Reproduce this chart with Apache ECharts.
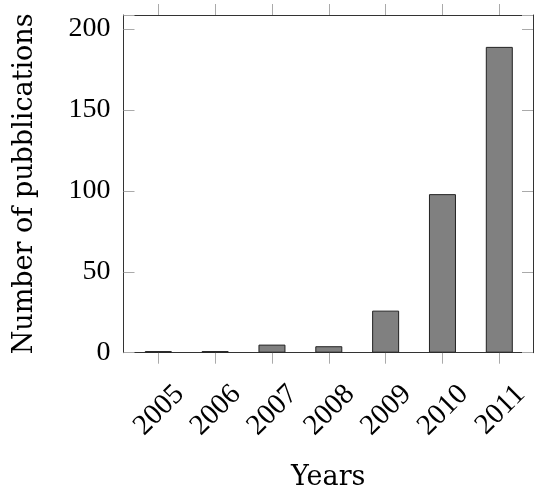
<!DOCTYPE html>
<html>
<head>
<meta charset="utf-8">
<script src="https://cdn.jsdelivr.net/npm/echarts@6/dist/echarts.min.js"></script>
<style>html,body{margin:0;padding:0;background:#fff}#c{width:534px;height:491px}</style>
</head>
<body>
<div id="c"></div>
<script>
const years = ['2005', '2006', '2007', '2008', '2009', '2010', '2011'];
const publications = [1, 1, 5, 4, 26, 98, 189];
const yTicks = [0, 50, 100, 150, 200];
const yMax = 208.7;

const font = 'Liberation Serif';
const titleFont = 'DejaVu Serif';
const axisCol = '#333';
const tickCol = '#aaa';

const chart = echarts.init(document.getElementById('c'), null, {renderer: 'canvas'});
const frame = {left: 123.5, right: 1, top: 15, bottom: 138.3, outerBoundsMode: 'none', containLabel: false};
const inner = {left: 158.3, right: 34.7, top: 15, bottom: 138.3, outerBoundsMode: 'none', containLabel: false};
const noZero = {show: true, onZero: false, lineStyle: {color: axisCol, width: 1}};

chart.setOption({
  animation: false,
  backgroundColor: '#fff',
  grid: [frame, inner],
  xAxis: [
    {gridIndex: 0, type: 'value', min: 0, max: 1, position: 'bottom',
     axisLine: noZero,
     axisTick: {show: false}, axisLabel: {show: false}, splitLine: {show: false},
     name: 'Years', nameLocation: 'middle', nameGap: 112,
     nameTextStyle: {fontFamily: titleFont, fontSize: 27, color: '#000'}},
    {gridIndex: 0, type: 'value', min: 0, max: 1, position: 'top',
     axisLine: noZero,
     axisTick: {show: false}, axisLabel: {show: false}, splitLine: {show: false}},
    {gridIndex: 1, type: 'category', data: years, boundaryGap: false, position: 'bottom',
     axisLine: {show: false, onZero: false},
     axisTick: {show: true, length: 11, alignWithLabel: true, lineStyle: {color: tickCol, width: 1}},
     axisLabel: {show: true, rotate: 45, interval: 0, margin: 16, fontFamily: font, fontSize: 29, color: '#000',
                 verticalAlign: 'top', lineHeight: 60},
     splitLine: {show: false}},
    {gridIndex: 1, type: 'category', data: years, boundaryGap: false, position: 'top',
     axisLine: {show: false, onZero: false},
     axisTick: {show: true, length: 11, lineStyle: {color: tickCol, width: 1}},
     axisLabel: {show: false}, splitLine: {show: false}}
  ],
  yAxis: [
    {gridIndex: 0, type: 'value', min: 0, max: yMax, interval: 50, position: 'left',
     axisLine: noZero,
     axisTick: {show: true, inside: true, length: 11, lineStyle: {color: tickCol, width: 1}},
     axisLabel: {show: true, margin: 13, fontFamily: font, fontSize: 28, color: '#000',
                 formatter: v => yTicks.includes(v) ? String(v) : ''},
     splitLine: {show: false},
     name: 'Number of pubblications', nameLocation: 'middle', nameGap: 85, nameRotate: 90,
     nameTextStyle: {fontFamily: titleFont, fontSize: 27, color: '#000'}},
    {gridIndex: 0, type: 'value', min: 0, max: yMax, interval: 50, position: 'right',
     axisLine: noZero,
     axisTick: {show: true, inside: true, length: 11, lineStyle: {color: tickCol, width: 1}},
     axisLabel: {show: false}, splitLine: {show: false}},
    {gridIndex: 1, type: 'value', min: 0, max: yMax, show: false}
  ],
  series: [{
    type: 'bar',
    xAxisIndex: 2,
    yAxisIndex: 2,
    clip: false,
    barWidth: 27,
    data: publications,
    itemStyle: {color: '#808080', borderColor: '#222', borderWidth: 1}
  }]
});
</script>
</body>
</html>
